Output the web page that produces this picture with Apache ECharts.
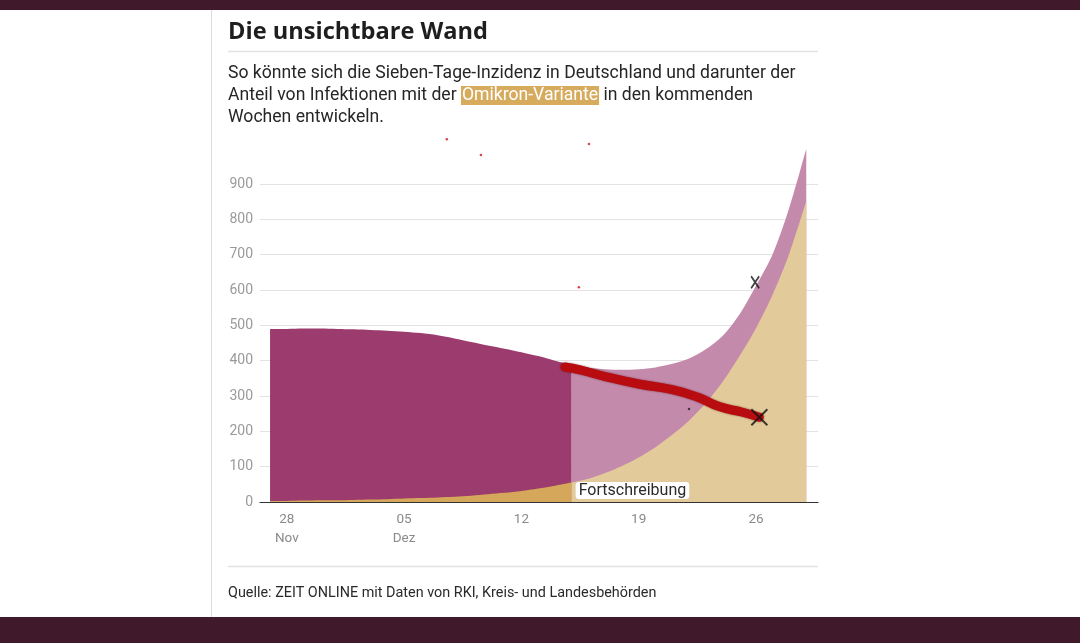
<!DOCTYPE html>
<html>
<head>
<meta charset="utf-8">
<script src="https://cdn.jsdelivr.net/npm/echarts@6/dist/echarts.min.js"></script>
<style>
  html, body { margin: 0; padding: 0; background: #fff; }
  #chart { width: 1080px; height: 643px; }
</style>
</head>
<body>
<div id="chart"></div>
<script>
// day offsets relative to 28 Nov (0) ... 29 Dez (31)
const days = [-1, 0, 1, 2, 3, 4, 5, 6, 7, 8, 9, 10, 11, 12, 13, 14, 15, 16,
  17, 18, 19, 20, 21, 22, 23, 24, 25, 26, 27, 28, 29, 30, 31];
// Sieben-Tage-Inzidenz gesamt
const total = [490, 490, 491, 491, 490, 489, 487, 485, 482, 478, 472, 463, 453, 443, 434, 424, 413, 400,
  389, 380, 376, 374, 376, 381, 391, 406, 432, 470, 530, 612, 702, 835, 1000];
// davon Omikron
const omikron = [3, 3, 4, 5, 5, 6, 7, 8, 10, 11, 13, 15, 18, 22, 26, 31, 38, 46,
  55, 66, 82, 102, 126, 155, 190, 230, 280, 340, 412, 492, 588, 705, 852];
const splitDay = 17; // ab 15. Dez: Fortschreibung

const tickDays = [0, 7, 14, 21, 28];
const tickLabels = ['28\nNov', '05\nDez', '12', '19', '26'];
const yTicks = [0, 100, 200, 300, 400, 500, 600, 700, 800, 900];

// hand-drawn annotations on the screenshot
const arrowDays = [16.6, 17.5, 19, 21, 23, 24.5, 25.8, 27.2, 28.2];
const arrowVals = [382, 374, 355, 334, 318, 297, 270, 254, 240];
const crossDays = [28.2, 27.95];
const crossVals = [240, 622];
const crossSizes = [[16, 16], [8, 12]];
const dotDays = [9.55, 11.58, 18.03, 17.43, 24.0];
const dotVals = [1027, 982, 1013, 608, 263];
const dotColors = ['#d0101a', '#d0101a', '#d0101a', '#d0101a', '#222'];

const splitIdx = days.indexOf(splitDay);
const pairs = (xs, ys) => xs.map((x, i) => [x, ys[i]]);
const hist = arr => pairs(days.slice(0, splitIdx + 1), arr.slice(0, splitIdx + 1));
const proj = arr => pairs(days.slice(splitIdx), arr.slice(splitIdx));

function area(name, data, color) {
  return {
    name: name,
    type: 'line',
    data: data,
    smooth: 0.3,
    symbol: 'none',
    lineStyle: { width: 0 },
    areaStyle: { color: color, opacity: 1 },
    emphasis: { disabled: true },
    silent: true
  };
}

const chart = echarts.init(document.getElementById('chart'));
const FONT = 'Roboto, "Noto Sans", sans-serif';

chart.setOption({
  animation: false,
  backgroundColor: '#fff',
  textStyle: { fontFamily: FONT },
  grid: { left: 260, right: 262, top: 148.7, bottom: 141 },
  xAxis: {
    type: 'value',
    min: -1.6,
    max: 31.7,
    axisLine: { show: true, lineStyle: { color: '#333', width: 1.2 } },
    axisTick: { show: false },
    splitLine: { show: false },
    axisLabel: {
      customValues: tickDays,
      formatter: v => tickLabels[tickDays.indexOf(v)] || '',
      color: '#8a8a8a',
      fontSize: 13.5,
      lineHeight: 19,
      margin: 8,
      fontFamily: FONT
    }
  },
  yAxis: {
    type: 'value',
    min: 0,
    max: 1000,
    interval: 100,
    axisLine: { show: false },
    axisTick: { show: false },
    axisLabel: {
      customValues: yTicks,
      color: '#9a9a9a',
      fontSize: 14,
      margin: 7,
      fontFamily: FONT
    },
    splitLine: {
      showMinLine: false,
      showMaxLine: false,
      lineStyle: { color: '#e3e3e3', width: 1.2 }
    }
  },
  series: [
    area('Gesamt', hist(total), '#9c3b6d'),
    area('Gesamt Fortschreibung', proj(total), '#c48aab'),
    area('Omikron', hist(omikron), '#d4a75a'),
    area('Omikron Fortschreibung', proj(omikron), '#e3ca9b'),
    {
      name: 'Pfeil',
      type: 'line',
      data: pairs(arrowDays, arrowVals),
      smooth: true,
      symbol: 'none',
      silent: true,
      z: 5,
      lineStyle: { color: '#b80c10', width: 9, cap: 'round', join: 'round',
        shadowColor: 'rgba(70,0,0,0.6)', shadowBlur: 2 }
    },
    {
      name: 'Kreuz',
      type: 'scatter',
      data: crossDays.map((d, i) => ({ value: [d, crossVals[i]], symbolSize: crossSizes[i] })),
      symbol: 'path://M0,0L10,12M10,0L0,12',
      silent: true,
      z: 6,
      itemStyle: { color: 'none', borderColor: '#111', borderWidth: 2 }
    },
    {
      name: 'Punkte',
      type: 'scatter',
      clip: false,
      data: dotDays.map((d, i) => ({ value: [d, dotVals[i]], itemStyle: { color: dotColors[i] } })),
      symbolSize: 2.5,
      silent: true,
      z: 6
    }
  ],
  graphic: [
    { type: 'rect', shape: { x: 0, y: 0, width: 1080, height: 10 }, style: { fill: '#40192b' } },
    { type: 'rect', shape: { x: 0, y: 617, width: 1080, height: 26 }, style: { fill: '#40192b' } },
    { type: 'line', shape: { x1: 211.5, y1: 10, x2: 211.5, y2: 617 }, style: { stroke: '#dcdcdc', lineWidth: 1 } },
    { type: 'line', shape: { x1: 228, y1: 51.5, x2: 818, y2: 51.5 }, style: { stroke: '#e2e2e2', lineWidth: 1.5 } },
    { type: 'line', shape: { x1: 228, y1: 566.5, x2: 818, y2: 566.5 }, style: { stroke: '#e2e2e2', lineWidth: 1.5 } },
    {
      type: 'text', left: 228, top: 20,
      style: { text: 'Die unsichtbare Wand', font: 'bold 23.6px "Open Sans", Roboto, sans-serif', fill: '#1e1e1e' }
    },
    {
      type: 'text', left: 228, top: 62.5,
      style: {
        text: 'So könnte sich die Sieben-Tage-Inzidenz in Deutschland und darunter der\n' +
          'Anteil von Infektionen mit der {hl|Omikron-Variante} in den kommenden\n' +
          'Wochen entwickeln.',
        font: '17.6px ' + FONT, fill: '#262626', lineHeight: 22,
        rich: {
          hl: { backgroundColor: '#d6ab5e', fill: '#fff', font: '17.6px ' + FONT, padding: [1, 1, 0, 1], lineHeight: 22 }
        }
      }
    },
    {
      type: 'text', left: 228, top: 586,
      style: { text: 'Quelle: ZEIT ONLINE mit Daten von RKI, Kreis- und Landesbehörden', font: '14.4px ' + FONT, fill: '#2a2a2a' }
    }
  ]
});

// "Fortschreibung" label at the start of the projection
const p = chart.convertToPixel({ xAxisIndex: 0, yAxisIndex: 0 }, [splitDay, 0]);
chart.setOption({
  graphic: [{
    type: 'text', id: 'fort', x: p[0] + 4, y: p[1] - 3, z: 10,
    style: {
      text: 'Fortschreibung', font: '16px ' + FONT, fill: '#2a2a2a',
      verticalAlign: 'bottom', backgroundColor: '#fff', padding: [1, 3, 0, 3], borderRadius: 3
    }
  }]
});
</script>
</body>
</html>
